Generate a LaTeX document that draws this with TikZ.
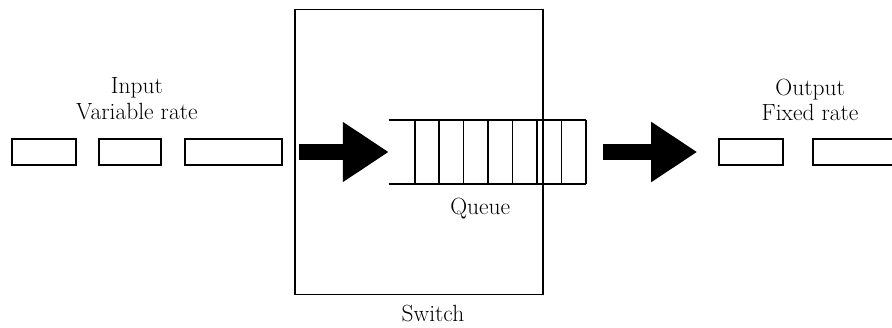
\documentclass[tikz,border=0pt]{standalone}
\usepackage{tikz}
\usetikzlibrary{arrows.meta, positioning}
\tikzset{
    bufferdiagram/.style={line join=miter, node distance=0.6cm and 0.6cm},
    switchbox/.style={draw, line width=1.6pt, minimum width=7.44cm, minimum height=8.55cm, inner sep=0pt},
    queuebox/.style={minimum width=5.91cm, minimum height=1.92cm, inner sep=0pt},
    packet/.style={draw, line width=1.6pt, minimum height=0.78cm, inner sep=0pt},
    bigarrow/.style={line width=0.48cm, -{Triangle[length=1.38cm, width=1.71cm]}},
    lbl/.style={font=\fontsize{20}{21.5}\selectfont, inner sep=0pt, align=center},
    % cell walls inside the queue
    cellwall/.style={line width=1.3pt},
}

\begin{document}
\begin{tikzpicture}[bufferdiagram]
    \clip (0,0) rectangle (26.76,9.81);

    \node[switchbox]                              (switch) at (12.57,5.25) {};
    \node[queuebox]                               (queue)  at (14.625,5.25) {};

    % packets arriving
    \node[packet, minimum width=2.91cm, left=0.33cm of switch] (in3) {};
    \node[packet, minimum width=1.86cm, left=0.66cm of in3]    (in2) {};
    \node[packet, minimum width=1.92cm, left=0.63cm of in2]    (in1) {};

    % packets leaving
    \node[packet, minimum width=1.92cm, right=3.96cm of queue] (out1) {};
    \node[packet, minimum width=2.70cm, right=0.84cm of out1]  (out2) {};

    % queue
    \draw[line width=1.6pt] (queue.north west) -- (queue.north east);
    \draw[line width=1.6pt] (queue.south west) -- (queue.south east);
    \foreach \k in {0,...,7}
        \draw[cellwall] ([xshift=0.78cm+\k*0.733cm]queue.north west)
                     -- ([xshift=0.78cm+\k*0.733cm]queue.south west);

    \draw[bigarrow] ([xshift=0.15cm]switch.west) -- (queue.west);
    \draw[bigarrow] ([xshift=0.51cm]queue.east) -- ([xshift=-0.63cm]out1.west);

    % labels
    \node[lbl, above=0.55cm of in2.north, xshift=0.2cm]        (inlbl)  {Input\\Variable rate};
    \node[lbl, above=0.5cm of out1.north east, xshift=0.78cm]  (outlbl) {Output\\Fixed rate};
    \node[lbl, below=0.4cm of queue.south, xshift=-0.22cm]     (qlbl)   {Queue};
    \node[lbl, below=0.28cm of switch.south, xshift=0.42cm]    (swlbl)  {Switch};
\end{tikzpicture}
\end{document}
